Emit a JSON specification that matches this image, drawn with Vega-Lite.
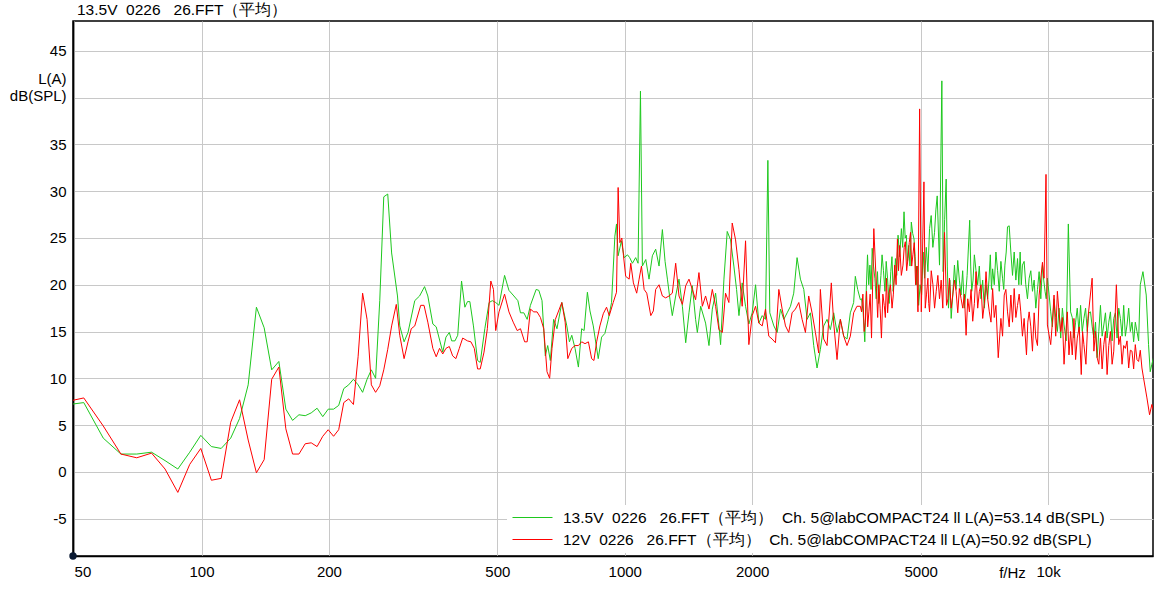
{
"$schema": "https://vega.github.io/schema/vega-lite/v6.json",
"width": 1080, "height": 535,
"autosize": {"type": "none"},
"padding": {"left": 73, "top": 21, "right": 2, "bottom": 34},
"background": "white",
"config": {"view": {"stroke": "black", "strokeWidth": 1.5}, "font": "Liberation Sans"},
"title": {"text": "13.5V\u00a0 0226\u00a0\u00a0 26.FFT（平均）", "anchor": "start", "frame": "group", "dx": 4, "offset": 7.5, "dy": 16.5, "baseline": "alphabetic", "fontSize": 15.5, "fontWeight": "normal", "font": "Liberation Sans", "color": "black"},
"datasets": {
"o": [{"f":49.7,"d":-9}],
"g": [
{"f":46.9,"d":7.1},{"f":52.7,"d":7.4},{"f":58.6,"d":3.6},{"f":64.5,"d":1.9},{"f":70.3,"d":1.9},{"f":76.2,"d":2.1},{"f":82.0,"d":1.2},{"f":87.9,"d":0.3},{"f":93.8,"d":2.1},{"f":99.6,"d":3.9},{"f":105.5,"d":2.7},{"f":111.3,"d":2.5},{"f":117.2,"d":3.6},{"f":123.0,"d":5.7},{"f":128.9,"d":9.3},{"f":134.8,"d":17.6},{"f":140.6,"d":15.4},{"f":146.5,"d":10.9},{"f":152.3,"d":11.8},{"f":158.2,"d":6.7},{"f":164.1,"d":5.5},{"f":169.9,"d":6.1},{"f":175.8,"d":6.0},{"f":181.6,"d":6.3},{"f":187.5,"d":6.8},{"f":193.4,"d":5.9},{"f":199.2,"d":6.7},{"f":205.1,"d":6.7},{"f":210.9,"d":7.1},{"f":216.8,"d":8.9},{"f":222.7,"d":9.3},{"f":228.5,"d":9.9},{"f":234.4,"d":9.3},{"f":240.2,"d":8.5},{"f":246.1,"d":9.9},{"f":251.9,"d":10.9},{"f":257.8,"d":10.0},{"f":263.7,"d":18.3},{"f":269.5,"d":29.4},{"f":275.4,"d":29.7},{"f":281.3,"d":23.4},{"f":290.4,"d":18.8},{"f":294,"d":15.6},{"f":301,"d":13.9},{"f":307.5,"d":14.9},{"f":319,"d":18.3},{"f":327.5,"d":18.8},{"f":336.5,"d":19.8},{"f":342.5,"d":18.8},{"f":352,"d":15.8},{"f":358.5,"d":15.5},{"f":371.5,"d":12.8},{"f":378,"d":14.4},{"f":385,"d":14.9},{"f":390,"d":14.0},{"f":397,"d":14.0},{"f":403,"d":14.6},{"f":411.5,"d":20.4},{"f":419,"d":17.6},{"f":425,"d":18.2},{"f":430.5,"d":18.2},{"f":439,"d":15.6},{"f":449,"d":11.9},{"f":455.5,"d":11.7},{"f":467,"d":15.3},{"f":478,"d":18.1},{"f":486.5,"d":18.3},{"f":495.5,"d":18.1},{"f":504.5,"d":17.8},{"f":520,"d":21.0},{"f":532.5,"d":19.4},{"f":547,"d":18.8},{"f":559,"d":18.3},{"f":567,"d":17.0},{"f":577.5,"d":17.0},{"f":588,"d":16.3},{"f":598.5,"d":17.8},{"f":617.5,"d":19.5},{"f":626.5,"d":19.4},{"f":637.5,"d":18.3},{"f":649,"d":12.4},{"f":657.5,"d":13.5},{"f":667,"d":11.9},{"f":679,"d":16.3},{"f":691.5,"d":15.3},{"f":710,"d":18.1},{"f":729.5,"d":15.6},{"f":740,"d":13.9},{"f":749.5,"d":14.6},{"f":763,"d":13.2},{"f":777,"d":11.2},{"f":791,"d":15.3},{"f":801.5,"d":15.1},{"f":816,"d":19.2},{"f":827.5,"d":17.2},{"f":842.5,"d":15.6},{"f":865.5,"d":12.1},{"f":881.5,"d":14.4},{"f":897.5,"d":14.8},{"f":914,"d":16.3},{"f":930.5,"d":18.1},{"f":947.5,"d":25.2},{"f":956,"d":26.5},{"f":964.5,"d":23.1},{"f":982,"d":24.7},{"f":996.5,"d":22.9},{"f":1015,"d":23.2},{"f":1027,"d":22.9},{"f":1042.5,"d":22.3},{"f":1061,"d":22.9},{"f":1075,"d":22.3},{"f":1089,"d":40.7},{"f":1100.5,"d":22.0},{"f":1121,"d":22.7},{"f":1141,"d":20.6},{"f":1162,"d":23.1},{"f":1183,"d":23.8},{"f":1205,"d":22.0},{"f":1227,"d":25.9},{"f":1245,"d":22.5},{"f":1261,"d":20.6},{"f":1279,"d":18.4},{"f":1295,"d":16.7},{"f":1319,"d":18.8},{"f":1343,"d":20.6},{"f":1368,"d":17.7},{"f":1393,"d":13.8},{"f":1418,"d":17.0},{"f":1444,"d":19.9},{"f":1470,"d":16.3},{"f":1484,"d":14.9},{"f":1511,"d":17.7},{"f":1552,"d":15.9},{"f":1581,"d":13.5},{"f":1610,"d":17.4},{"f":1639,"d":19.1},{"f":1669,"d":15.6},{"f":1684,"d":13.6},{"f":1715,"d":20.6},{"f":1746,"d":25.7},{"f":1778,"d":24.8},{"f":1810,"d":22.0},{"f":1837,"d":19.5},{"f":1861,"d":16.7},{"f":1894,"d":20.2},{"f":1929,"d":17.7},{"f":1964,"d":15.8},{"f":2000,"d":17.0},{"f":2037,"d":20.0},{"f":2074,"d":15.9},{"f":2112,"d":16.7},{"f":2150,"d":16.3},{"f":2178,"d":33.3},{"f":2201,"d":17.0},{"f":2250,"d":15.6},{"f":2291,"d":14.9},{"f":2333,"d":17.4},{"f":2375,"d":16.3},{"f":2419,"d":17.0},{"f":2463,"d":17.7},{"f":2507,"d":19.1},{"f":2553,"d":22.9},{"f":2600,"d":20.6},{"f":2648,"d":19.5},{"f":2696,"d":16.3},{"f":2745,"d":17.0},{"f":2795,"d":13.5},{"f":2846,"d":11.1},{"f":2898,"d":13.1},{"f":2951,"d":15.6},{"f":3005,"d":16.3},{"f":3060,"d":15.2},{"f":3116,"d":17.0},{"f":3173,"d":14.9},{"f":3231,"d":16.3},{"f":3290,"d":14.5},{"f":3350,"d":14.2},{"f":3411,"d":17.0},{"f":3473,"d":18.1},{"f":3505,"d":20.9},{"f":3550,"d":19.5},{"f":3602,"d":18.4},{"f":3626,"d":18.5},{"f":3658,"d":17.0},{"f":3690,"d":13.9},{"f":3717,"d":19.0},{"f":3745,"d":23.2},{"f":3770,"d":20.0},{"f":3794,"d":22.1},{"f":3818,"d":19.5},{"f":3842,"d":23.9},{"f":3870,"d":22.0},{"f":3898,"d":20.7},{"f":3926,"d":18.5},{"f":3954,"d":21.4},{"f":3979,"d":18.0},{"f":4004,"d":19.3},{"f":4029,"d":21.0},{"f":4054,"d":23.2},{"f":4085,"d":21.5},{"f":4117,"d":19.3},{"f":4146,"d":22.5},{"f":4176,"d":20.7},{"f":4213,"d":18.0},{"f":4251,"d":21.4},{"f":4278,"d":23.0},{"f":4305,"d":19.3},{"f":4332,"d":20.5},{"f":4359,"d":22.8},{"f":4390,"d":21.0},{"f":4422,"d":25.3},{"f":4462,"d":23.0},{"f":4503,"d":26.0},{"f":4535,"d":24.0},{"f":4568,"d":27.8},{"f":4597,"d":25.0},{"f":4626,"d":25.3},{"f":4655,"d":22.5},{"f":4685,"d":24.2},{"f":4719,"d":22.0},{"f":4753,"d":26.7},{"f":4788,"d":25.5},{"f":4823,"d":24.9},{"f":4853,"d":23.0},{"f":4884,"d":20.0},{"f":4915,"d":22.0},{"f":4946,"d":17.8},{"f":4986,"d":20.0},{"f":5026,"d":18.9},{"f":5068,"d":23.5},{"f":5110,"d":20.7},{"f":5156,"d":24.0},{"f":5202,"d":21.4},{"f":5249,"d":26.0},{"f":5296,"d":27.4},{"f":5344,"d":24.0},{"f":5393,"d":25.6},{"f":5432,"d":28.0},{"f":5472,"d":29.5},{"f":5541,"d":22.1},{"f":5612,"d":41.8},{"f":5652,"d":21.4},{"f":5698,"d":27.0},{"f":5745,"d":31.3},{"f":5781,"d":22.0},{"f":5818,"d":17.5},{"f":5861,"d":20.5},{"f":5904,"d":16.4},{"f":5957,"d":19.0},{"f":6010,"d":22.1},{"f":6064,"d":19.5},{"f":6118,"d":22.6},{"f":6173,"d":20.5},{"f":6229,"d":18.9},{"f":6285,"d":21.5},{"f":6341,"d":17.5},{"f":6390,"d":19.0},{"f":6439,"d":21.0},{"f":6530,"d":26.9},{"f":6566,"d":22.0},{"f":6602,"d":19.3},{"f":6650,"d":20.5},{"f":6698,"d":23.2},{"f":6758,"d":21.5},{"f":6819,"d":20.0},{"f":6881,"d":22.0},{"f":6943,"d":18.5},{"f":7007,"d":20.5},{"f":7071,"d":17.5},{"f":7135,"d":20.0},{"f":7200,"d":18.5},{"f":7252,"d":20.5},{"f":7305,"d":23.2},{"f":7351,"d":19.5},{"f":7397,"d":21.7},{"f":7464,"d":20.0},{"f":7531,"d":23.5},{"f":7600,"d":21.5},{"f":7669,"d":19.3},{"f":7738,"d":22.5},{"f":7808,"d":20.7},{"f":7858,"d":19.5},{"f":7908,"d":22.1},{"f":7965,"d":23.5},{"f":8022,"d":26.2},{"f":8095,"d":26.3},{"f":8168,"d":23.5},{"f":8243,"d":21.0},{"f":8318,"d":23.5},{"f":8394,"d":20.5},{"f":8470,"d":22.8},{"f":8531,"d":20.0},{"f":8592,"d":23.5},{"f":8646,"d":20.0},{"f":8700,"d":22.1},{"f":8780,"d":22.5},{"f":8860,"d":20.0},{"f":8941,"d":18.5},{"f":9023,"d":20.7},{"f":9105,"d":21.5},{"f":9188,"d":19.3},{"f":9272,"d":20.5},{"f":9356,"d":17.5},{"f":9441,"d":19.5},{"f":9527,"d":21.4},{"f":9614,"d":18.5},{"f":9701,"d":22.1},{"f":9769,"d":20.5},{"f":9838,"d":19.3},{"f":9901,"d":18.5},{"f":9964,"d":20.7},{"f":10055,"d":19.0},{"f":10146,"d":17.1},{"f":10239,"d":15.5},{"f":10332,"d":18.5},{"f":10426,"d":16.5},{"f":10521,"d":15.0},{"f":10617,"d":17.5},{"f":10713,"d":14.3},{"f":10811,"d":17.5},{"f":10909,"d":15.7},{"f":11037,"d":14.0},{"f":11167,"d":26.5},{"f":11306,"d":17.1},{"f":11409,"d":16.5},{"f":11513,"d":14.3},{"f":11617,"d":16.0},{"f":11723,"d":17.5},{"f":11830,"d":15.0},{"f":11937,"d":17.8},{"f":12045,"d":15.0},{"f":12155,"d":16.4},{"f":12266,"d":17.5},{"f":12377,"d":15.0},{"f":12488,"d":17.0},{"f":12599,"d":17.1},{"f":12715,"d":15.5},{"f":12832,"d":14.3},{"f":12947,"d":16.0},{"f":13062,"d":12.2},{"f":13181,"d":15.0},{"f":13300,"d":17.8},{"f":13421,"d":14.5},{"f":13543,"d":15.7},{"f":13666,"d":17.0},{"f":13789,"d":14.3},{"f":13915,"d":16.0},{"f":14041,"d":17.1},{"f":14169,"d":14.0},{"f":14298,"d":16.4},{"f":14428,"d":17.0},{"f":14558,"d":14.3},{"f":14690,"d":17.5},{"f":14823,"d":16.4},{"f":14957,"d":14.5},{"f":15092,"d":17.8},{"f":15229,"d":14.5},{"f":15367,"d":15.7},{"f":15507,"d":17.5},{"f":15647,"d":15.0},{"f":15789,"d":16.0},{"f":15931,"d":13.9},{"f":16076,"d":16.0},{"f":16222,"d":15.0},{"f":16369,"d":14.0},{"f":16516,"d":20.0},{"f":16756,"d":21.4},{"f":17060,"d":18.9},{"f":17276,"d":13.6},{"f":17433,"d":10.7},{"f":17591,"d":11.5},{"f":17750,"d":12.2}
],
"r": [
{"f":46.9,"d":7.4},{"f":52.7,"d":7.9},{"f":58.6,"d":4.9},{"f":64.5,"d":1.9},{"f":70.3,"d":1.5},{"f":76.2,"d":2.0},{"f":82.0,"d":0.3},{"f":87.9,"d":-2.2},{"f":93.8,"d":0.8},{"f":99.6,"d":2.5},{"f":105.5,"d":-0.9},{"f":111.3,"d":-0.7},{"f":117.2,"d":5.3},{"f":123.0,"d":7.7},{"f":128.9,"d":3.4},{"f":134.8,"d":-0.1},{"f":140.6,"d":1.3},{"f":146.5,"d":9.9},{"f":152.3,"d":11.2},{"f":158.2,"d":4.6},{"f":164.1,"d":1.9},{"f":169.9,"d":1.9},{"f":175.8,"d":3.0},{"f":181.6,"d":3.1},{"f":187.5,"d":2.7},{"f":193.4,"d":3.8},{"f":199.2,"d":4.5},{"f":205.1,"d":3.8},{"f":210.9,"d":4.5},{"f":216.8,"d":7.4},{"f":222.7,"d":7.8},{"f":228.5,"d":7.2},{"f":234.4,"d":12.3},{"f":240.2,"d":19.1},{"f":246.1,"d":16.3},{"f":251.9,"d":9.3},{"f":257.8,"d":8.5},{"f":263.7,"d":9.2},{"f":269.5,"d":10.9},{"f":275.4,"d":13.1},{"f":281.3,"d":15.6},{"f":288.5,"d":17.9},{"f":294,"d":14.6},{"f":301,"d":12.1},{"f":307.5,"d":13.9},{"f":313,"d":15.3},{"f":319,"d":15.6},{"f":329.5,"d":17.8},{"f":335.5,"d":17.8},{"f":342.5,"d":16.0},{"f":352,"d":13.2},{"f":358.5,"d":12.3},{"f":365,"d":13.2},{"f":371.5,"d":12.6},{"f":378,"d":13.2},{"f":385,"d":13.4},{"f":392,"d":12.4},{"f":399,"d":12.1},{"f":406.5,"d":13.2},{"f":414,"d":14.3},{"f":425,"d":14.0},{"f":433,"d":13.9},{"f":441,"d":13.2},{"f":449,"d":11.0},{"f":455.5,"d":11.0},{"f":465,"d":12.8},{"f":473.5,"d":15.3},{"f":482.5,"d":20.4},{"f":489.5,"d":19.5},{"f":495.5,"d":15.1},{"f":504.5,"d":17.1},{"f":520,"d":19.0},{"f":532.5,"d":17.1},{"f":545,"d":16.0},{"f":557,"d":15.1},{"f":567,"d":15.3},{"f":580,"d":13.9},{"f":588,"d":13.9},{"f":598.5,"d":17.4},{"f":609.5,"d":17.1},{"f":620.5,"d":17.1},{"f":632,"d":16.5},{"f":643.5,"d":15.3},{"f":655,"d":10.7},{"f":664.5,"d":10.0},{"f":673,"d":13.2},{"f":685.5,"d":16.3},{"f":710,"d":18.1},{"f":723,"d":16.0},{"f":733.5,"d":12.1},{"f":749.5,"d":13.2},{"f":763,"d":13.5},{"f":777,"d":13.5},{"f":791,"d":13.9},{"f":805.5,"d":13.7},{"f":820.5,"d":13.9},{"f":835,"d":12.1},{"f":845.5,"d":11.9},{"f":858,"d":13.9},{"f":873.5,"d":15.6},{"f":889.5,"d":16.9},{"f":905.5,"d":17.6},{"f":919,"d":16.7},{"f":939,"d":18.1},{"f":956,"d":19.2},{"f":964.5,"d":30.4},{"f":973.5,"d":24.5},{"f":984,"d":25.0},{"f":993,"d":23.1},{"f":1005,"d":20.9},{"f":1024,"d":20.6},{"f":1033,"d":22.3},{"f":1048,"d":20.2},{"f":1067,"d":19.1},{"f":1081,"d":20.6},{"f":1095,"d":22.0},{"f":1111,"d":19.5},{"f":1127,"d":19.1},{"f":1152,"d":16.7},{"f":1168,"d":17.2},{"f":1183,"d":19.5},{"f":1205,"d":20.0},{"f":1227,"d":18.8},{"f":1249,"d":18.6},{"f":1272,"d":18.8},{"f":1295,"d":19.1},{"f":1319,"d":22.3},{"f":1343,"d":18.8},{"f":1368,"d":17.9},{"f":1393,"d":19.9},{"f":1418,"d":20.6},{"f":1444,"d":19.5},{"f":1470,"d":18.4},{"f":1497,"d":21.3},{"f":1525,"d":17.7},{"f":1552,"d":18.8},{"f":1581,"d":17.4},{"f":1610,"d":19.5},{"f":1639,"d":17.7},{"f":1669,"d":15.2},{"f":1700,"d":14.9},{"f":1730,"d":19.1},{"f":1762,"d":18.1},{"f":1794,"d":26.6},{"f":1827,"d":24.8},{"f":1861,"d":21.6},{"f":1894,"d":17.7},{"f":1929,"d":24.7},{"f":1964,"d":13.6},{"f":2000,"d":16.7},{"f":2037,"d":17.7},{"f":2074,"d":15.9},{"f":2112,"d":15.6},{"f":2150,"d":17.4},{"f":2189,"d":14.5},{"f":2229,"d":14.2},{"f":2270,"d":13.8},{"f":2312,"d":19.5},{"f":2354,"d":17.4},{"f":2397,"d":15.6},{"f":2440,"d":14.9},{"f":2485,"d":17.0},{"f":2530,"d":17.4},{"f":2577,"d":18.1},{"f":2624,"d":16.3},{"f":2672,"d":14.9},{"f":2720,"d":18.8},{"f":2770,"d":17.0},{"f":2821,"d":14.9},{"f":2872,"d":12.7},{"f":2898,"d":19.5},{"f":2951,"d":14.2},{"f":3005,"d":13.5},{"f":3076,"d":20.2},{"f":3116,"d":15.9},{"f":3173,"d":12.0},{"f":3231,"d":16.3},{"f":3290,"d":14.5},{"f":3350,"d":13.5},{"f":3411,"d":14.5},{"f":3473,"d":17.0},{"f":3536,"d":17.7},{"f":3602,"d":17.7},{"f":3626,"d":17.1},{"f":3652,"d":19.0},{"f":3678,"d":15.0},{"f":3701,"d":16.0},{"f":3725,"d":19.3},{"f":3749,"d":15.5},{"f":3773,"d":17.1},{"f":3800,"d":19.0},{"f":3828,"d":14.3},{"f":3876,"d":26.0},{"f":3933,"d":19.6},{"f":3958,"d":16.5},{"f":3983,"d":20.0},{"f":4011,"d":17.5},{"f":4040,"d":14.3},{"f":4071,"d":19.0},{"f":4102,"d":17.8},{"f":4127,"d":16.5},{"f":4152,"d":20.7},{"f":4178,"d":17.0},{"f":4204,"d":18.9},{"f":4242,"d":20.0},{"f":4280,"d":17.5},{"f":4311,"d":19.0},{"f":4343,"d":22.1},{"f":4375,"d":20.0},{"f":4407,"d":24.9},{"f":4434,"d":21.5},{"f":4462,"d":24.2},{"f":4502,"d":21.0},{"f":4543,"d":22.1},{"f":4572,"d":24.0},{"f":4601,"d":24.6},{"f":4634,"d":21.5},{"f":4668,"d":22.8},{"f":4700,"d":24.5},{"f":4733,"d":25.6},{"f":4763,"d":22.0},{"f":4794,"d":23.2},{"f":4829,"d":24.5},{"f":4865,"d":20.0},{"f":4896,"d":22.0},{"f":4928,"d":17.1},{"f":4973,"d":38.8},{"f":5018,"d":17.1},{"f":5091,"d":31.0},{"f":5127,"d":17.5},{"f":5164,"d":19.0},{"f":5202,"d":20.7},{"f":5225,"d":18.0},{"f":5249,"d":17.1},{"f":5297,"d":21.5},{"f":5346,"d":20.0},{"f":5394,"d":17.5},{"f":5442,"d":19.3},{"f":5491,"d":21.0},{"f":5541,"d":18.5},{"f":5591,"d":20.5},{"f":5641,"d":17.5},{"f":5694,"d":25.6},{"f":5757,"d":17.8},{"f":5803,"d":18.5},{"f":5850,"d":20.7},{"f":5903,"d":17.5},{"f":5956,"d":18.9},{"f":6010,"d":20.5},{"f":6064,"d":19.3},{"f":6119,"d":17.0},{"f":6174,"d":19.6},{"f":6231,"d":18.5},{"f":6288,"d":17.5},{"f":6345,"d":19.0},{"f":6403,"d":14.6},{"f":6461,"d":18.5},{"f":6519,"d":17.1},{"f":6578,"d":19.5},{"f":6638,"d":16.1},{"f":6698,"d":18.0},{"f":6759,"d":21.4},{"f":6820,"d":17.5},{"f":6882,"d":19.3},{"f":6945,"d":20.0},{"f":7008,"d":16.4},{"f":7072,"d":18.0},{"f":7136,"d":21.4},{"f":7201,"d":18.5},{"f":7266,"d":17.1},{"f":7331,"d":16.0},{"f":7397,"d":19.6},{"f":7464,"d":16.5},{"f":7531,"d":17.8},{"f":7627,"d":12.2},{"f":7738,"d":16.4},{"f":7808,"d":14.5},{"f":7879,"d":18.9},{"f":7950,"d":19.5},{"f":8022,"d":17.1},{"f":8095,"d":15.5},{"f":8168,"d":18.9},{"f":8243,"d":16.0},{"f":8318,"d":19.6},{"f":8394,"d":16.5},{"f":8470,"d":17.8},{"f":8546,"d":19.0},{"f":8622,"d":17.1},{"f":8701,"d":14.5},{"f":8780,"d":16.4},{"f":8893,"d":12.5},{"f":8958,"d":16.0},{"f":9023,"d":17.1},{"f":9105,"d":15.5},{"f":9188,"d":12.9},{"f":9272,"d":17.0},{"f":9356,"d":14.3},{"f":9441,"d":13.5},{"f":9527,"d":18.9},{"f":9701,"d":22.4},{"f":9786,"d":20.7},{"f":9890,"d":31.8},{"f":9964,"d":15.7},{"f":10146,"d":13.6},{"f":10239,"d":16.0},{"f":10332,"d":18.9},{"f":10426,"d":14.5},{"f":10521,"d":19.3},{"f":10617,"d":17.0},{"f":10713,"d":15.0},{"f":10811,"d":16.5},{"f":10909,"d":11.5},{"f":11008,"d":14.5},{"f":11107,"d":17.1},{"f":11206,"d":12.5},{"f":11306,"d":15.0},{"f":11409,"d":12.5},{"f":11513,"d":16.4},{"f":11617,"d":12.0},{"f":11723,"d":14.3},{"f":11851,"d":15.5},{"f":11980,"d":10.4},{"f":12067,"d":15.0},{"f":12155,"d":13.6},{"f":12288,"d":11.5},{"f":12422,"d":16.4},{"f":12711,"d":20.7},{"f":12832,"d":12.9},{"f":12947,"d":15.0},{"f":13062,"d":12.2},{"f":13181,"d":11.5},{"f":13300,"d":14.3},{"f":13421,"d":11.0},{"f":13543,"d":13.6},{"f":13666,"d":15.0},{"f":13789,"d":10.4},{"f":13915,"d":13.5},{"f":14041,"d":15.0},{"f":14169,"d":11.5},{"f":14298,"d":12.9},{"f":14502,"d":20.0},{"f":14689,"d":13.6},{"f":14822,"d":14.5},{"f":14956,"d":11.5},{"f":15092,"d":13.5},{"f":15229,"d":13.2},{"f":15367,"d":14.0},{"f":15506,"d":11.1},{"f":15647,"d":13.0},{"f":15788,"d":12.9},{"f":15931,"d":11.0},{"f":16076,"d":13.6},{"f":16221,"d":12.0},{"f":16367,"d":11.8},{"f":16516,"d":13.0},{"f":16665,"d":11.1},{"f":16818,"d":10.0},{"f":17125,"d":7.9},{"f":17373,"d":6.1},{"f":17591,"d":7.2},{"f":17750,"d":6.5}
]
},
"encoding": {
"x": {"field": "f", "type": "quantitative", "scale": {"type": "log", "domain": [49.7, 17700], "nice": false},
 "axis": {"values": [50, 100, 200, 500, 1000, 2000, 5000, 10000], "labelExpr": "datum.value == 10000 ? '10k' : '' + datum.value", "labelFlush": 5, "labelOverlap": false, "labelFont": "Liberation Sans", "labelFontSize": 15, "labelColor": "black", "labelPadding": 8, "ticks": false, "tickSize": 0, "grid": true, "gridColor": "#c8c8c8", "gridWidth": 1, "domainColor": "black", "domainWidth": 1.5, "title": "f/Hz", "titleX": 939, "titleY": 21.6, "titleAlign": "center", "titleBaseline": "alphabetic", "titleFont": "Liberation Sans", "titleFontSize": 15, "titleFontWeight": "normal", "titleColor": "black"}},
"y": {"field": "d", "type": "quantitative", "scale": {"domain": [-9, 48.2], "nice": false, "zero": false},
 "axis": {"values": [-5, 0, 5, 10, 15, 20, 25, 30, 35, 40, 45], "labelExpr": "datum.value == 40 ? '' : '' + datum.value", "labelFont": "Liberation Sans", "labelFontSize": 15, "labelColor": "black", "labelPadding": 7, "ticks": false, "tickSize": 0, "grid": true, "gridColor": "#c8c8c8", "gridWidth": 1, "domainColor": "black", "domainWidth": 1.5, "title": ["L(A)", "dB(SPL)"], "titleAngle": 0, "titleAlign": "right", "titleBaseline": "alphabetic", "titleX": -7, "titleY": 62.5, "titleLineHeight": 16.5, "titleFont": "Liberation Sans", "titleFontSize": 15, "titleFontWeight": "normal", "titleColor": "black"}}
},
"layer": [
{"data": {"name": "g"}, "mark": {"type": "line", "strokeWidth": 1, "clip": true},
 "encoding": {"color": {"datum": "13.5V", "type": "nominal", "scale": {"domain": ["13.5V", "12V"], "range": ["#1ec81e", "#ff0000"]},
  "legend": {"title": null, "orient": "none", "legendX": 434, "legendY": 484, "direction": "vertical", "fillColor": "white", "padding": 5, "symbolType": "stroke", "symbolSize": 1600, "symbolStrokeWidth": 1, "clipHeight": 15, "rowPadding": 6, "labelOffset": 10, "labelFont": "Liberation Sans", "labelFontSize": 15.5, "labelColor": "black", "labelLimit": 0, "labelExpr": "datum.value == '13.5V' ? '13.5V\u00a0 0226\u00a0\u00a0 26.FFT（平均）\u00a0 Ch. 5@labCOMPACT24 ll L(A)=53.14 dB(SPL)' : '12V\u00a0 0226\u00a0\u00a0 26.FFT（平均）\u00a0 Ch. 5@labCOMPACT24 ll L(A)=50.92 dB(SPL)'"}}}},
{"data": {"name": "r"}, "mark": {"type": "line", "strokeWidth": 1, "clip": true},
 "encoding": {"color": {"datum": "12V", "type": "nominal"}}},
{"data": {"name": "o"}, "mark": {"type": "circle", "color": "#0b1a33", "size": 55, "opacity": 1, "clip": false}}
]
}
